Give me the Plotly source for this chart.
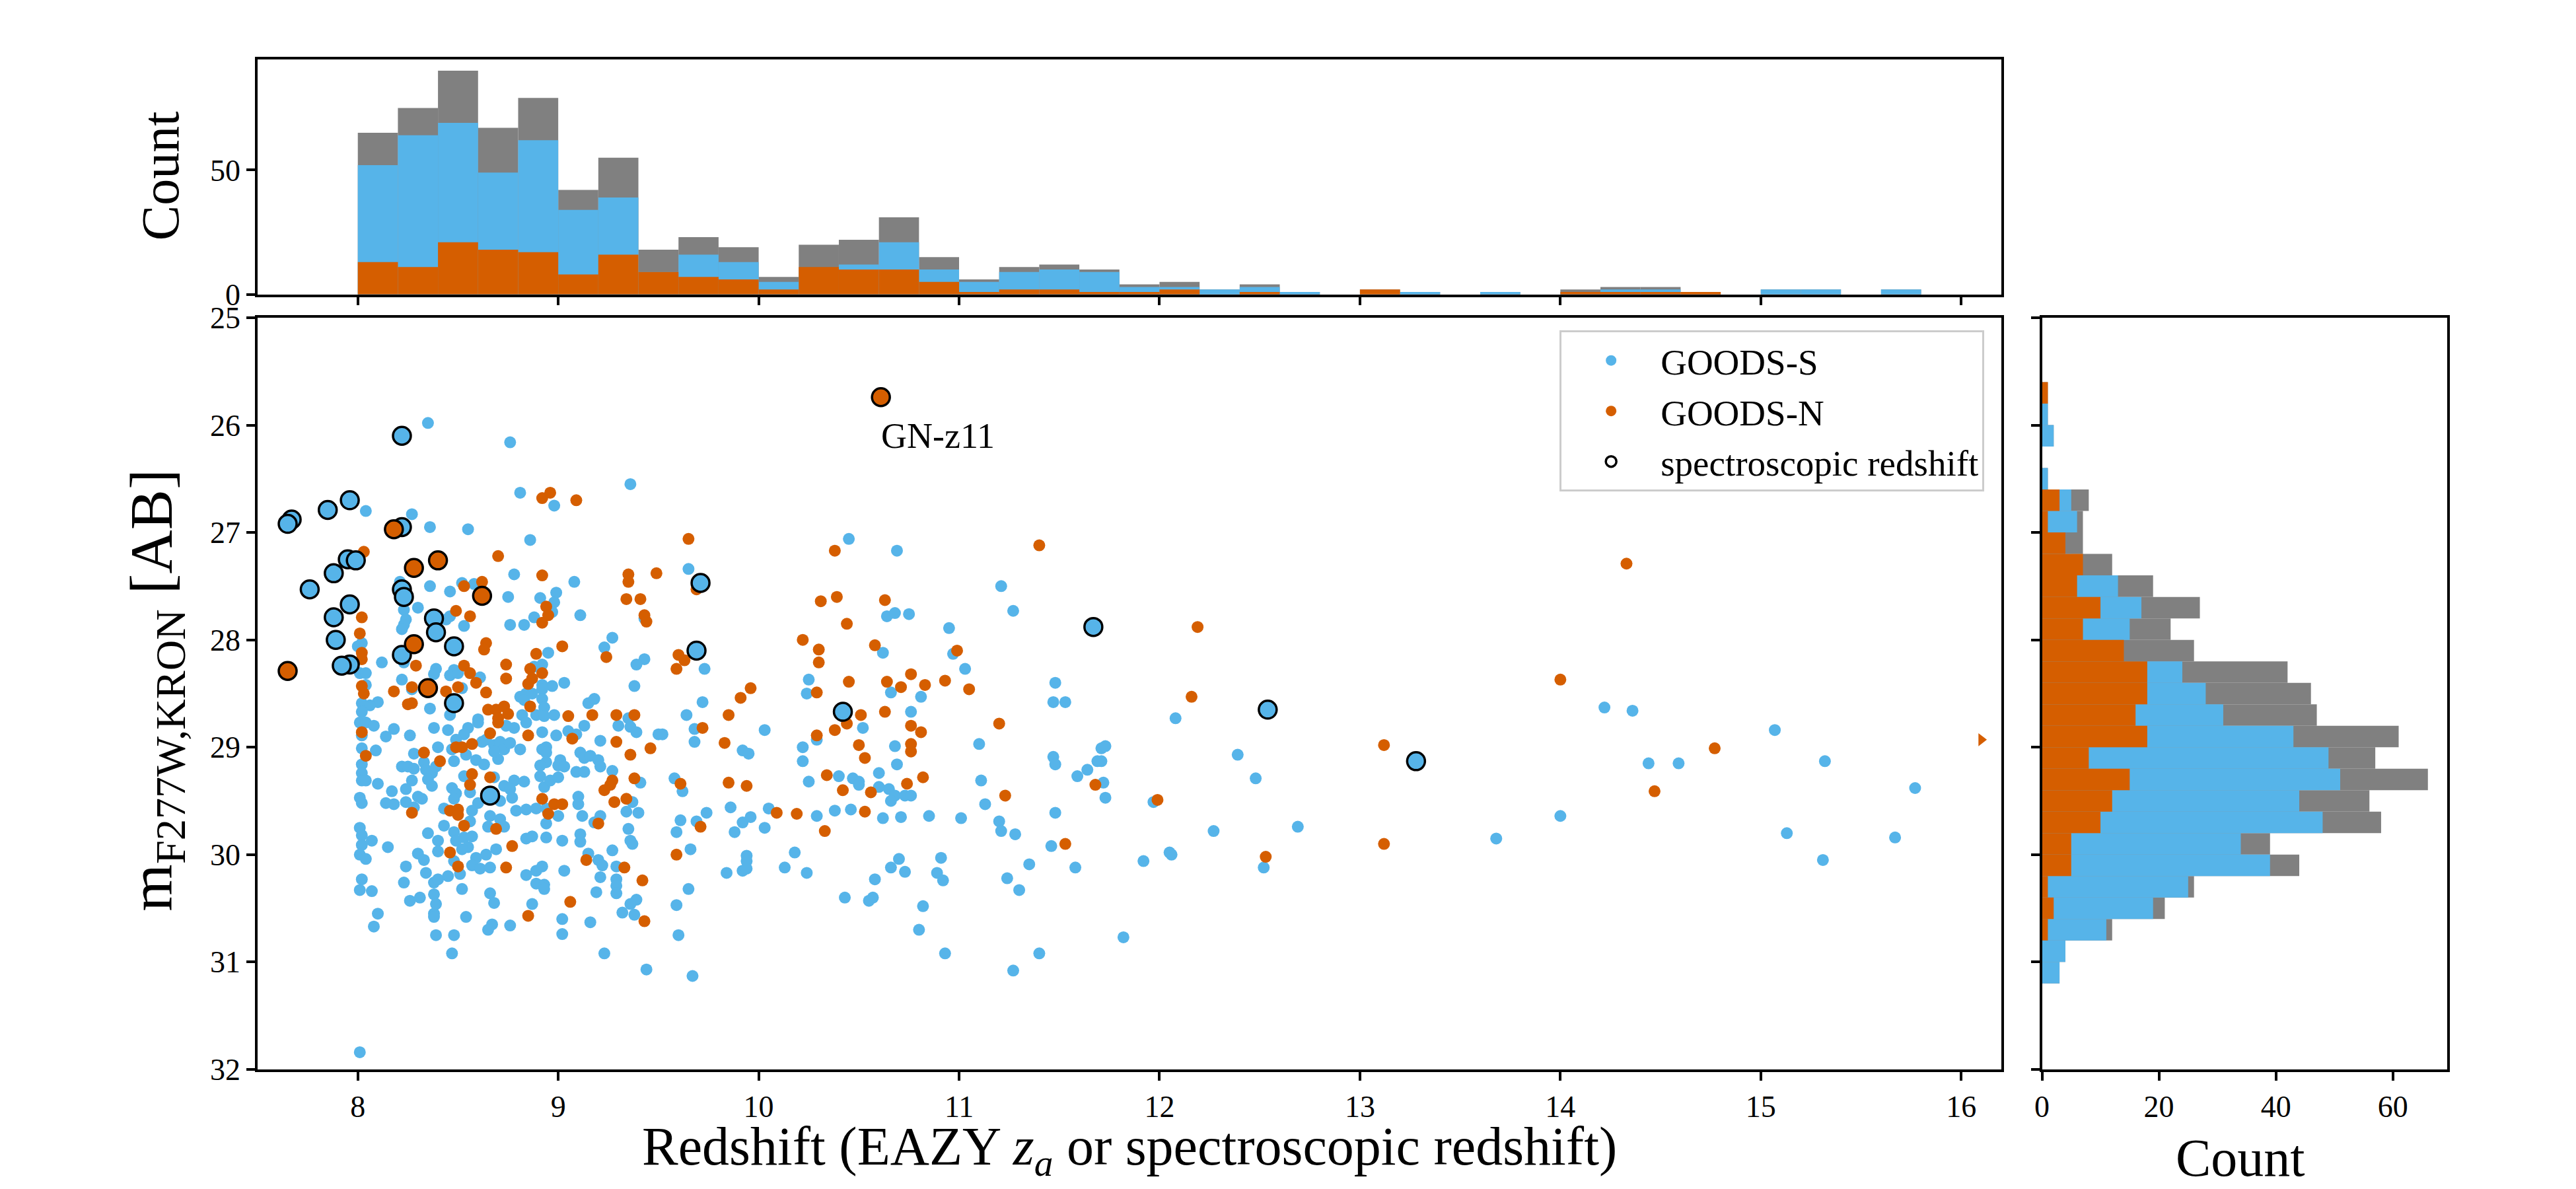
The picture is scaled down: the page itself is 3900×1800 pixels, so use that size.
import plotly.graph_objects as go

BLUE = "#56B4E9"
ORANGE = "#D55E00"
GRAY = "#808080"
FONT = "Liberation Serif"

# ---------------- scatter data (redshift, F277W Kron magnitude) ----------------
goods_s_z = [
    8.35, 8.76, 9.36, 8.81, 8.98, 8.04, 8.27, 8.36, 8.55, 8.86, 8.78, 9.08, 8.21, 8.36, 8.46, 8.52, 8.58, 8.75, 8.91, 8.99,
    8.98, 8.97, 8.88, 9.11, 9.43, 8.23, 8.30, 8.24, 8.23, 8.22, 8.46, 8.44, 8.53, 8.76, 8.83, 8.02, 8.00, 8.23, 8.95, 9.27,
    9.23, 9.43, 9.39, 8.12, 8.39, 8.38, 8.48, 8.46, 8.50, 8.61, 8.92, 8.88, 9.03, 8.97, 8.92, 8.92, 9.38, 8.01, 8.04, 8.04,
    8.22, 8.27, 8.52, 8.81, 8.84, 8.87, 8.83, 8.92, 8.93, 9.15, 9.18, 8.10, 8.02, 8.06, 8.02, 8.36, 8.46, 8.60, 8.82, 8.89,
    8.93, 8.98, 9.35,
    10.45, 10.69, 9.65, 11.21, 10.64, 10.68, 10.75, 11.27, 10.95, 10.62, 10.97, 9.73, 11.03, 10.25, 10.24, 10.66, 10.81, 9.72,
    9.64, 10.76, 11.47, 11.48,
    8.01, 8.04, 8.08, 8.02, 8.14, 8.18, 8.26, 8.38, 8.45, 8.55, 8.53, 8.60, 8.74, 8.78, 8.84, 8.92, 8.99, 9.05, 9.09, 9.13,
    9.30, 9.36, 9.39, 9.21, 9.50,
    8.02, 8.02, 8.09, 8.28, 8.40, 8.47, 8.49, 8.62, 8.64, 8.68, 8.71, 8.73, 8.76, 8.54, 8.59, 8.63, 8.70, 8.68, 8.33, 8.48,
    8.81, 8.94, 8.92, 8.94, 9.11, 9.13, 9.16, 9.20, 9.21, 9.01, 9.00, 9.03, 8.94, 8.91, 9.27, 9.41, 9.09, 9.13,
    8.22, 8.25, 8.28, 8.34, 8.37, 8.39, 8.35, 8.37, 8.02, 8.02, 8.04, 8.10, 8.27, 8.24, 8.17, 8.53, 8.68, 8.73, 8.78, 8.76,
    8.83, 8.91, 8.93, 8.96, 9.00,
    8.01, 8.02, 8.14, 8.18, 8.24, 8.28, 8.30, 8.32, 8.47, 8.49, 8.48, 8.56, 8.71, 8.77, 8.60, 8.43, 8.57, 8.89, 8.94, 8.79,
    8.84, 9.10, 9.10, 9.37, 9.34, 9.40, 9.00, 9.12, 9.21,
    8.66, 8.71, 8.56, 8.43, 8.65, 8.73, 8.94, 9.18, 8.01, 8.02, 8.02, 8.07, 8.15, 8.35, 8.40, 8.40, 8.48, 8.49, 8.53, 8.57,
    8.55, 8.52, 8.84, 8.87, 8.94, 9.02, 9.11, 9.11, 9.35, 9.36, 9.37,
    8.69, 8.01, 8.04, 8.30, 8.33, 8.48, 8.51, 8.59, 8.64, 8.57, 8.61, 8.66, 9.27, 9.15, 9.20, 9.22, 9.29, 8.24, 8.34, 8.84,
    8.89, 8.92, 9.03, 9.21,
    8.02, 8.01, 8.07, 8.23, 8.38, 8.40, 8.45, 8.52, 8.89, 8.93, 8.93, 9.19, 9.29, 9.29, 9.29, 8.38,
    8.26, 8.31, 8.39, 8.66, 8.68, 8.87, 9.39, 9.36, 9.32, 9.38, 8.10, 8.38, 8.38, 8.54, 9.02, 9.16, 8.08, 8.67, 8.65, 8.76,
    8.39, 8.48, 9.02, 8.47, 9.23, 9.44, 8.01,
    9.52, 9.68, 9.68, 9.92, 9.95, 10.03, 10.29, 10.52, 10.22, 10.22, 10.68, 10.69, 11.10, 11.47, 11.48, 9.58, 9.62, 10.25,
    10.40, 10.47, 10.50, 10.50, 10.60, 10.60, 10.65, 10.68, 10.66, 10.73, 10.76, 11.11, 11.13, 11.48, 9.86, 10.05, 10.29,
    10.38, 10.46, 10.62, 10.71, 10.85, 11.01, 11.20, 11.21, 11.28, 9.61, 9.69, 9.74, 9.59, 9.92, 9.96, 9.88, 10.03, 11.46,
    9.66, 9.94, 9.94, 9.92, 9.94, 9.84, 10.18, 10.13, 10.24, 10.70, 10.66, 10.73, 10.91, 10.89, 10.92, 10.58, 11.35, 11.24,
    11.30, 9.65, 9.59, 10.43, 10.57, 10.55, 10.82, 9.60, 10.80, 10.93, 11.40, 11.27, 9.67,
    11.53, 12.08, 11.71, 11.73, 11.69, 11.71, 11.59, 11.64, 11.72, 11.73, 11.97, 12.39, 12.48, 11.58, 11.92, 12.05, 12.06,
    12.27, 12.69, 12.52, 13.68, 11.82,
    14.22, 14.36, 15.07, 14.44, 14.59, 15.32, 15.77, 14.00, 15.13, 15.67, 15.31,
]
goods_s_m = [
    25.98, 26.16, 26.55, 26.63, 26.75, 26.80, 26.83, 26.95, 26.97, 27.07, 27.39, 27.46, 27.46, 27.50, 27.55, 27.47, 27.48, 27.60, 27.61, 27.56,
    27.65, 27.74, 27.79, 27.77, 27.80, 27.72, 27.70, 27.81, 27.86, 27.90, 27.78, 27.81, 27.87, 27.86, 27.86, 28.03, 28.06, 28.21, 28.12, 27.98,
    28.07, 28.18, 28.23, 28.21, 28.27, 28.32, 28.28, 28.33, 28.31, 28.35, 28.23, 28.25, 28.40, 28.43, 28.42, 28.46, 28.43, 28.31, 28.31, 28.42,
    28.37, 28.46, 28.45, 28.53, 28.50, 28.50, 28.56, 28.55, 28.63, 28.59, 28.55, 28.58, 28.59, 28.61, 28.67, 28.64, 28.70, 28.74, 28.70, 28.70,
    28.71, 28.70, 28.73,
    27.06, 27.17, 27.34, 27.50, 27.78, 27.75, 27.76, 27.73, 27.89, 28.12, 28.13, 28.27, 28.27, 28.37, 28.50, 28.49, 28.53, 28.58,
    28.70, 28.67, 28.58, 28.40,
    28.77, 28.77, 28.80, 28.89, 28.90, 28.83, 28.89, 28.82, 28.84, 28.82, 28.88, 28.77, 28.80, 28.82, 28.77, 28.86, 28.89, 28.85, 28.88, 28.80,
    28.80, 28.81, 28.86, 28.94, 28.88,
    29.01, 29.16, 29.03, 29.06, 29.00, 29.02, 28.93, 28.95, 28.93, 28.98, 28.95, 29.02, 28.96, 29.07, 29.12, 29.16, 29.11, 29.04, 29.14, 29.13,
    29.02, 29.00, 29.02, 29.05, 29.05, 29.10, 29.08, 29.12, 29.18, 29.12, 29.17, 29.18, 29.14, 29.17, 29.22, 29.33, 29.23, 29.23,
    29.18, 29.18, 29.20, 29.21, 29.24, 29.18, 29.30, 29.36, 29.24, 29.31, 29.31, 29.34, 29.31, 29.39, 29.41, 29.27, 29.28, 29.36, 29.31, 29.39,
    29.32, 29.27, 29.37, 29.31, 29.28,
    29.47, 29.52, 29.52, 29.53, 29.51, 29.56, 29.46, 29.48, 29.38, 29.43, 29.48, 29.42, 29.50, 29.47, 29.52, 29.57, 29.59, 29.57, 29.57, 29.59,
    29.58, 29.46, 29.53, 29.51, 29.60, 29.61, 29.64, 29.64, 29.64,
    29.64, 29.67, 29.69, 29.73, 29.74, 29.74, 29.71, 29.70, 29.75, 29.82, 29.91, 29.87, 29.93, 29.80, 29.87, 29.97, 29.79, 29.87, 29.84, 29.83,
    29.93, 29.95, 29.85, 29.83, 29.84, 29.87, 29.81, 29.88, 29.76, 29.87, 29.90,
    29.95, 30.00, 30.04, 29.99, 30.05, 30.06, 30.18, 30.03, 30.00, 30.10, 30.13, 30.12, 29.96, 29.99, 30.05, 30.10, 30.11, 30.11, 30.17, 30.19,
    30.15, 30.11, 30.15, 30.21,
    30.23, 30.33, 30.34, 30.26, 30.26, 30.23, 30.20, 30.32, 30.27, 30.28, 30.32, 30.35, 30.23, 30.29, 30.36, 30.37,
    30.43, 30.40, 30.46, 30.36, 30.45, 30.46, 30.42, 30.46, 30.54, 30.56, 30.55, 30.55, 30.58, 30.58, 30.60, 30.63, 30.67, 30.65, 30.70, 30.66,
    30.75, 30.75, 30.74, 30.92, 30.92, 31.07, 31.84,
    28.88, 28.83, 28.95, 29.03, 29.06, 28.84, 28.93, 28.82, 29.00, 29.13, 28.99, 29.16, 28.97, 29.09, 29.16, 29.29, 29.41, 29.32,
    29.27, 29.29, 29.32, 29.35, 29.24, 29.37, 29.39, 29.45, 29.50, 29.45, 29.45, 29.31, 29.53, 29.61, 29.56, 29.57, 29.64,
    29.59, 29.58, 29.66, 29.65, 29.64, 29.66, 29.69, 29.78, 29.81, 29.68, 29.69, 29.61, 29.79, 29.70, 29.65, 29.79, 29.75, 29.92,
    29.95, 30.01, 30.06, 30.15, 30.13, 30.17, 29.98, 30.12, 30.17, 30.04, 30.12, 30.16, 30.03, 30.17, 30.24, 30.23, 30.09, 30.22,
    30.33, 30.32, 30.47, 30.40, 30.40, 30.43, 30.48, 30.75, 30.70, 30.92, 30.92, 31.08, 31.13,
    28.58, 28.73, 29.01, 28.99, 29.13, 29.13, 29.27, 29.21, 29.33, 29.47, 29.51, 29.07, 29.29, 30.12, 30.06, 29.98, 30.00,
    29.78, 29.74, 30.12, 29.85, 30.77,
    28.63, 28.66, 28.84, 29.15, 29.15, 29.13, 29.38, 29.64, 29.80, 29.84, 30.05,
]

goods_n_z = [
    8.92, 8.96, 9.09, 8.03, 8.70, 8.92, 9.35, 9.35, 9.49, 8.53, 8.62, 8.94, 8.95, 8.92, 9.34, 9.41, 9.43, 9.44, 8.02, 8.49,
    8.56, 8.01, 8.02, 8.02, 8.64, 8.63, 8.89, 9.02, 9.24, 8.29, 8.53, 8.56, 8.59, 8.74, 8.74, 8.86, 8.92, 8.87, 8.85, 8.02,
    8.03, 8.27, 8.18, 8.44, 8.50, 8.64, 8.86, 8.25, 8.27, 8.65, 8.69, 8.73, 8.75, 8.70, 9.05, 9.17, 9.29, 9.38,
    9.65, 10.38, 11.40, 9.69, 10.31, 10.39, 10.63, 10.44, 10.22, 10.30, 10.30, 10.58, 10.99, 9.60, 9.63, 9.59, 10.29, 10.45,
    10.64, 10.71, 10.76, 10.83, 10.93, 11.05, 9.96, 9.91, 9.85, 10.51, 10.63,
    8.02, 8.70, 8.66, 8.85, 9.07, 9.29, 9.46, 9.36, 8.04, 8.33, 8.49, 8.52, 8.57, 8.41, 8.57, 8.56, 8.66, 9.27, 9.26, 9.38,
    9.23, 8.46, 8.50, 8.50, 8.92, 8.98, 9.02, 8.95, 9.28, 9.34, 8.27, 8.53, 8.69, 9.20, 8.46, 8.77, 8.50, 8.74, 9.14, 9.33,
    9.42, 9.06, 9.43, 8.85,
    9.72, 9.83, 10.29, 10.38, 10.44, 10.76, 10.81, 10.76, 10.76, 10.50, 10.53, 11.20, 9.61, 9.85, 9.94, 10.34, 10.42, 10.56,
    10.74, 10.82, 11.23, 10.09, 10.19, 10.53, 9.71, 10.33, 9.59,
    12.19, 12.16, 11.68, 11.99, 13.12, 11.53, 12.53, 13.12,
    14.33, 14.00, 14.77, 14.47,
]
goods_n_m = [
    26.68, 26.63, 26.70, 27.18, 27.22, 27.40, 27.39, 27.46, 27.38, 27.50, 27.46, 27.69, 27.77, 27.84, 27.62, 27.62, 27.77, 27.83, 27.79, 27.73,
    27.78, 27.94, 28.12, 28.18, 28.03, 28.09, 28.13, 28.06, 28.16, 28.24, 28.24, 28.31, 28.40, 28.23, 28.36, 28.27, 28.31, 28.36, 28.41, 28.43,
    28.50, 28.44, 28.48, 28.48, 28.44, 28.49, 28.62, 28.60, 28.59, 28.65, 28.65, 28.62, 28.69, 28.73, 28.71, 28.70, 28.70, 28.70,
    27.06, 27.17, 27.12, 27.53, 27.64, 27.60, 27.63, 27.85, 28.00, 28.09, 28.21, 28.05, 28.10, 28.14, 28.19, 28.27, 28.49, 28.39,
    28.39, 28.44, 28.32, 28.42, 28.38, 28.46, 28.45, 28.54, 28.70, 28.70, 28.67,
    28.86, 28.77, 28.87, 28.89, 28.92, 28.95, 29.01, 29.07, 29.08, 29.05, 29.00, 29.00, 28.97, 29.13, 29.25, 29.35, 29.28, 29.31, 29.35, 29.29,
    29.40, 29.59, 29.58, 29.63, 29.48, 29.53, 29.53, 29.62, 29.51, 29.48, 29.61, 29.73, 29.76, 29.71, 29.98, 29.92, 30.11, 30.12, 30.05, 30.12,
    30.24, 30.44, 30.62, 30.57,
    28.82, 28.96, 28.89, 28.84, 28.78, 28.80, 28.86, 28.97, 29.04, 28.98, 29.10, 28.78, 29.34, 29.33, 29.36, 29.26, 29.40, 29.42,
    29.34, 29.28, 29.45, 29.61, 29.62, 29.60, 29.74, 29.78, 30.00,
    27.88, 28.53, 29.35, 29.49, 28.98, 29.90, 30.02, 29.90,
    27.29, 28.37, 29.01, 29.41,
]

# sources with spectroscopic redshifts
spec_s_z = [8.22, 7.96, 7.85, 7.67, 7.65, 8.22, 7.95, 7.99, 7.88, 7.76, 8.22, 8.23, 7.96, 7.88, 8.38, 8.39, 7.89, 8.48,
            8.22, 7.96, 7.92, 8.48, 8.66, 9.71, 9.69, 10.42, 11.67, 12.54, 13.28]
spec_s_m = [26.10, 26.70, 26.79, 26.88, 26.92, 26.95, 27.25, 27.26, 27.38, 27.53, 27.53, 27.60, 27.67, 27.79, 27.80, 27.93,
            28.00, 28.06, 28.14, 28.23, 28.24, 28.59, 29.45, 27.47, 28.10, 28.67, 27.88, 28.65, 29.13]
spec_n_z = [8.18, 8.28, 8.40, 8.62, 8.28, 7.65, 8.35, 10.61]
spec_n_m = [26.97, 27.33, 27.26, 27.59, 28.04, 28.29, 28.45, 25.74]

# GOODS-N source beyond the plotted redshift range (drawn at the edge as an arrow)
offscale_n_z = [16.1]
offscale_n_m = [28.93]

label_name = "GN-z11"
label_z = 10.606
label_m = 26.10

# ---------------- redshift histogram (bin width 0.2) ----------------
z_bin_left = [8.0, 8.2, 8.4, 8.6, 8.8, 9.0, 9.2, 9.4, 9.6, 9.8, 10.0, 10.2, 10.4, 10.6, 10.8, 11.0, 11.2, 11.4, 11.6, 11.8,
              12.0, 12.2, 12.4, 12.6, 12.8, 13.0, 13.2, 13.4, 13.6, 13.8, 14.0, 14.2, 14.4, 14.6, 14.8, 15.0, 15.2, 15.4, 15.6, 15.8]
z_count_all = [65, 75, 90, 67, 79, 42, 55, 18, 23, 19, 7, 20, 22, 31, 15, 6, 11, 12, 10, 4,
               5, 2, 4, 1, 0, 2, 1, 0, 1, 0, 2, 3, 3, 1, 0, 2, 2, 0, 2, 0]
z_count_s = [52, 64, 69, 49, 62, 34, 39, 9, 16, 13, 5, 9, 12, 21, 10, 5, 9, 10, 9, 3,
             3, 2, 3, 1, 0, 0, 1, 0, 1, 0, 1, 2, 2, 0, 0, 2, 2, 0, 2, 0]
z_count_n = [13, 11, 21, 18, 17, 8, 16, 9, 7, 6, 2, 11, 10, 10, 5, 1, 2, 2, 1, 1,
             2, 0, 1, 0, 0, 2, 0, 0, 0, 0, 1, 1, 1, 1, 0, 0, 0, 0, 0, 0]

# ---------------- magnitude histogram (bin width 0.2) ----------------
m_bin_left = [25.6, 25.8, 26.0, 26.2, 26.4, 26.6, 26.8, 27.0, 27.2, 27.4, 27.6, 27.8, 28.0, 28.2, 28.4, 28.6, 28.8, 29.0,
              29.2, 29.4, 29.6, 29.8, 30.0, 30.2, 30.4, 30.6, 30.8, 31.0]
m_count_all = [1, 1, 2, 0, 1, 8, 7, 7, 12, 19, 27, 22, 26, 42, 46, 47, 61, 57, 66, 56, 58, 39, 44, 26, 21, 12, 4, 3]
m_count_s = [0, 1, 2, 0, 1, 5, 6, 3, 5, 13, 17, 15, 12, 24, 28, 31, 43, 49, 51, 44, 48, 34, 39, 25, 19, 11, 4, 3]
m_count_n = [1, 0, 0, 0, 0, 3, 1, 4, 7, 6, 10, 7, 14, 18, 18, 16, 18, 8, 15, 12, 10, 5, 5, 1, 2, 1, 0, 0]

z_ticks = [8, 9, 10, 11, 12, 13, 14, 15, 16]
m_ticks = [25, 26, 27, 28, 29, 30, 31, 32]
count_ticks_top = [0, 50]
count_ticks_right = [0, 20, 40, 60]

# ---------------- figure ----------------
fig = go.Figure()

# top histogram
for counts, col in [(z_count_all, GRAY), (z_count_s, BLUE), (z_count_n, ORANGE)]:
    fig.add_trace(go.Bar(x=z_bin_left, y=counts, width=0.2, offset=0, marker=dict(color=col, line=dict(width=0)),
                         xaxis="x2", yaxis="y2", showlegend=False, opacity=1))

# right histogram
for counts, col in [(m_count_all, GRAY), (m_count_s, BLUE), (m_count_n, ORANGE)]:
    fig.add_trace(go.Bar(y=m_bin_left, x=counts, width=0.2, offset=0, orientation="h",
                         marker=dict(color=col, line=dict(width=0)), xaxis="x3", yaxis="y3",
                         showlegend=False, opacity=1))

# main scatter
fig.add_trace(go.Scatter(x=goods_s_z, y=goods_s_m, mode="markers", name="GOODS-S", legendgroup="a",
                         marker=dict(color=BLUE, size=18, line=dict(width=0))))
fig.add_trace(go.Scatter(x=goods_n_z, y=goods_n_m, mode="markers", name="GOODS-N", legendgroup="b",
                         marker=dict(color=ORANGE, size=18, line=dict(width=0))))
fig.add_trace(go.Scatter(x=offscale_n_z, y=offscale_n_m, mode="markers", showlegend=False,
                         marker=dict(color=ORANGE, size=17, symbol="triangle-right", line=dict(width=0))))
fig.add_trace(go.Scatter(x=spec_s_z, y=spec_s_m, mode="markers", showlegend=False,
                         marker=dict(color=BLUE, size=27, line=dict(width=3.5, color="black"))))
fig.add_trace(go.Scatter(x=spec_n_z, y=spec_n_m, mode="markers", showlegend=False,
                         marker=dict(color=ORANGE, size=27, line=dict(width=3.5, color="black"))))
fig.add_trace(go.Scatter(x=[None], y=[None], mode="markers", name="spectroscopic redshift", legendgroup="c",
                         marker=dict(color="black", size=22, symbol="circle-open", line=dict(width=3.5))))

LW = 3.5
axis_common = dict(showline=True, linewidth=LW, linecolor="black", mirror=True, ticks="outside", ticklen=13,
                   tickwidth=LW, tickcolor="black", showgrid=False, zeroline=False, automargin=False,
                   tickfont=dict(family=FONT, size=46, color="black"))

main_x = [0.1, 0.7769]
main_y = [0.1006, 0.7328]

fig.update_layout(
    width=3900, height=1800,
    margin=dict(l=0, r=0, t=0, b=0, pad=0, autoexpand=False),
    paper_bgcolor="white", plot_bgcolor="white",
    barmode="overlay",
    font=dict(family=FONT, color="black"),
    xaxis=dict(domain=main_x, anchor="y", range=[7.5, 16.2], tickvals=z_ticks, **axis_common),
    yaxis=dict(domain=main_y, anchor="x", range=[32, 25], tickvals=m_ticks, **axis_common),
    xaxis2=dict(domain=main_x, anchor="y2", range=[7.5, 16.2], tickvals=z_ticks, showticklabels=False, **axis_common),
    yaxis2=dict(domain=[0.7524, 0.95], anchor="x2", range=[0, 94.5], tickvals=count_ticks_top, **axis_common),
    xaxis3=dict(domain=[0.7927, 0.95], anchor="y3", range=[0, 69.3], tickvals=count_ticks_right, **axis_common),
    yaxis3=dict(domain=main_y, anchor="x3", range=[32, 25], tickvals=m_ticks, showticklabels=False, **axis_common),
    legend=dict(x=0.7703, y=0.722, xanchor="right", yanchor="top", bgcolor="rgba(255,255,255,0.8)",
                bordercolor="#cccccc", borderwidth=3, font=dict(family=FONT, size=55, color="black"),
                itemwidth=140, traceorder="grouped", tracegroupgap=2),
    annotations=[
        dict(x=label_z, y=label_m, xref="x", yref="y", text=label_name, showarrow=False, xanchor="left",
             yanchor="middle", font=dict(family=FONT, size=54, color="black")),
        dict(x=0.4385, y=0.0328, xref="paper", yref="paper", showarrow=False, xanchor="center", yanchor="middle",
             text="Redshift (EAZY <i>z</i><sub><i>a</i></sub> or spectroscopic redshift)",
             font=dict(family=FONT, size=82, color="black")),
        dict(x=0.0605, y=0.4196, xref="paper", yref="paper", showarrow=False, xanchor="center", yanchor="middle",
             textangle=-90, text="m<sub>F277W,KRON</sub> [AB]", font=dict(family=FONT, size=92, color="black")),
        dict(x=0.0625, y=0.852, xref="paper", yref="paper", showarrow=False, xanchor="center", yanchor="middle",
             textangle=-90, text="Count", font=dict(family=FONT, size=80, color="black")),
        dict(x=0.8698, y=0.026, xref="paper", yref="paper", showarrow=False, xanchor="center", yanchor="middle",
             text="Count", font=dict(family=FONT, size=80, color="black")),
    ],
)

fig.write_html("out.html", config={"displayModeBar": False},
               post_script="document.body.style.margin='0';document.body.style.overflow='hidden';")
